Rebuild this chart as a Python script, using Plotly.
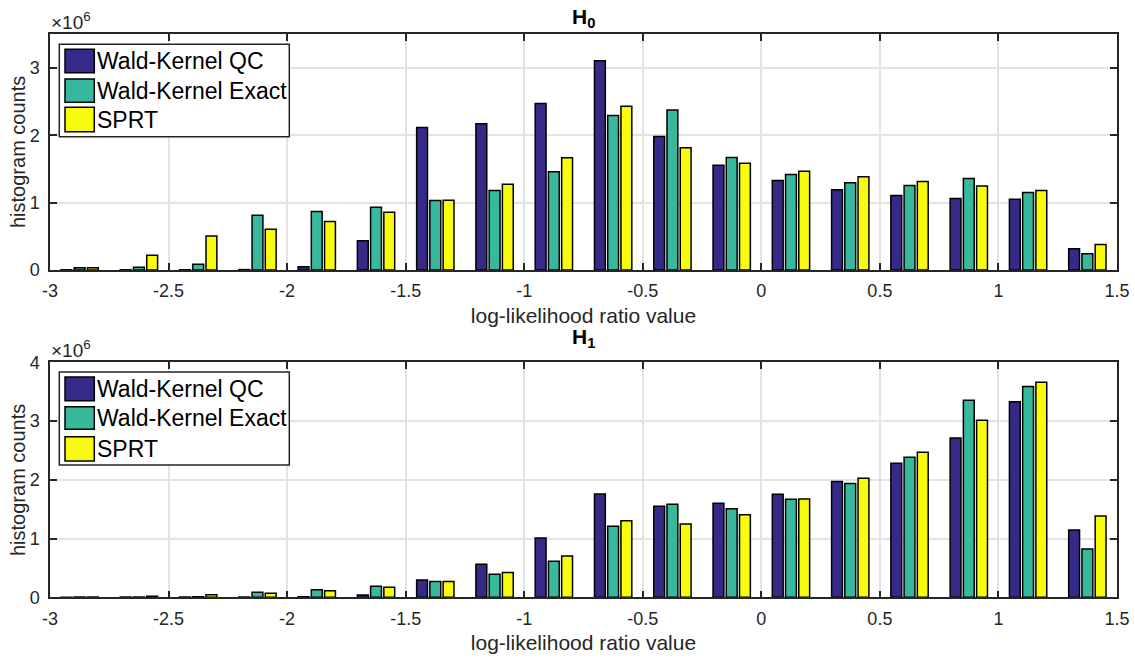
import plotly.graph_objects as go
from plotly.subplots import make_subplots

# ---------------- data ----------------
bin_centers = [-2.875, -2.625, -2.375, -2.125, -1.875, -1.625, -1.375, -1.125, -0.875,
               -0.625, -0.375, -0.125, 0.125, 0.375, 0.625, 0.875, 1.125, 1.375]
series_names = ["Wald-Kernel QC", "Wald-Kernel Exact", "SPRT"]

h0_qc = [3000, 3000, 3000, 6000, 50000, 436000, 2117000, 2172000, 2474000,
         3109000, 1983000, 1557000, 1329000, 1190000, 1106000, 1061000, 1051000, 317000]
h0_exact = [35000, 40000, 84000, 813000, 868000, 932000, 1031000, 1180000, 1458000,
            2296000, 2375000, 1671000, 1418000, 1294000, 1254000, 1359000, 1150000, 243000]
h0_sprt = [35000, 220000, 506000, 605000, 719000, 858000, 1036000, 1274000, 1666000,
           2430000, 1815000, 1587000, 1468000, 1383000, 1314000, 1249000, 1180000, 377000]

h1_qc = [2000, 3000, 3000, 5000, 10000, 40000, 295000, 562000, 1010000,
         1759000, 1549000, 1600000, 1753000, 1969000, 2281000, 2712000, 3330000, 1146000]
h1_exact = [5000, 5000, 10000, 85000, 130000, 187000, 267000, 391000, 613000,
            1209000, 1583000, 1509000, 1668000, 1935000, 2383000, 3353000, 3586000, 823000]
h1_sprt = [5000, 17000, 45000, 68000, 113000, 170000, 267000, 420000, 704000,
           1305000, 1248000, 1407000, 1674000, 2026000, 2468000, 3013000, 3660000, 1384000]

x_ticks = [-3, -2.5, -2, -1.5, -1, -0.5, 0, 0.5, 1, 1.5]
x_tick_text = ["-3", "-2.5", "-2", "-1.5", "-1", "-0.5", "0", "0.5", "1", "1.5"]
h0_yticks = [0, 1e6, 2e6, 3e6]
h0_ytext = ["0", "1", "2", "3"]
h1_yticks = [0, 1e6, 2e6, 3e6, 4e6]
h1_ytext = ["0", "1", "2", "3", "4"]
panel_titles = ["H<sub>0</sub>", "H<sub>1</sub>"]
x_label = "log-likelihood ratio value"
y_label = "histogram counts"

colors = ["#352A87", "#38B99E", "#F9FB0E"]

# ---------------- layout helpers ----------------
W, H = 1135, 658
FONT = "Liberation Sans, Arial, Helvetica, sans-serif"
TXT = "#262626"


def px(x):
    return x / W


def py(y):
    return 1 - y / H


fig = make_subplots(rows=2, cols=1)

panels = [
    (1, [h0_qc, h0_exact, h0_sprt], h0_yticks, h0_ytext, [0, 3.5e6]),
    (2, [h1_qc, h1_exact, h1_sprt], h1_yticks, h1_ytext, [0, 4e6]),
]
for row, data, yt, ytt, yr in panels:
    for name, vals, col in zip(series_names, data, colors):
        fig.add_trace(go.Bar(x=bin_centers, y=vals, name=name, showlegend=False,
                             marker=dict(color=col, line=dict(color="#000000", width=1.5))),
                      row=row, col=1)
    fig.update_xaxes(range=[-3, 1.5], tickvals=x_ticks, ticktext=x_tick_text,
                     showgrid=True, gridcolor="#E3E3E3", gridwidth=1.5,
                     ticks="inside", ticklen=7, tickwidth=1.5, tickcolor=TXT,
                     showline=True, linecolor=TXT, linewidth=1.5, mirror="ticks",
                     zeroline=False, automargin=False, ticklabelstandoff=4,
                     tickfont=dict(size=18, color=TXT, family=FONT),
                     title=dict(text=x_label, font=dict(size=21, color=TXT, family=FONT), standoff=8),
                     row=row, col=1)
    fig.update_yaxes(range=yr, tickvals=yt, ticktext=ytt,
                     showgrid=True, gridcolor="#E3E3E3", gridwidth=1.5,
                     ticks="inside", ticklen=7, tickwidth=1.5, tickcolor=TXT,
                     showline=True, linecolor=TXT, linewidth=1.5, mirror="ticks",
                     zeroline=False, automargin=False,
                     tickfont=dict(size=18, color=TXT, family=FONT),
                     ticklabelstandoff=5,
                     row=row, col=1)

x0, x1 = px(50), px(1117)
fig.update_layout(
    xaxis=dict(domain=[x0, x1]),
    xaxis2=dict(domain=[x0, x1]),
    yaxis=dict(domain=[py(270), py(34.3)]),
    yaxis2=dict(domain=[py(597.3), py(362.3)]),
)

annotations = []
shapes = []
# y-axis titles
for yc in [152, 480]:
    annotations.append(dict(x=px(18), y=py(yc), xref="paper", yref="paper", showarrow=False,
                            text=y_label, textangle=-90, xanchor="center", yanchor="middle",
                            font=dict(size=20, color=TXT, family=FONT)))
# panel titles and exponent labels
for title, ty in [(panel_titles[0], 18), (panel_titles[1], 338)]:
    annotations.append(dict(x=px(583), y=py(ty), xref="paper", yref="paper", showarrow=False,
                            text="<b>" + title + "</b>", xanchor="center", yanchor="middle",
                            font=dict(size=21, color="#000000", family=FONT)))
for ey in [21, 349]:
    annotations.append(dict(x=px(49), y=py(ey), xref="paper", yref="paper", showarrow=False,
                            text="×10<sup>6</sup>", xanchor="left", yanchor="middle",
                            font=dict(size=19, color=TXT, family=FONT)))

# manual legends (box, swatches, labels)
for box_top, box_bot, rows_y in [(44.3, 136.7, [(49.3, 72.7), (79, 102.3), (107.3, 131.7)]),
                                  (372, 465, [(377, 400.7), (406.7, 429.3), (436.7, 461)])]:
    shapes.append(dict(type="rect", xref="paper", yref="paper",
                       x0=px(59.3), x1=px(289.3), y0=py(box_bot), y1=py(box_top),
                       line=dict(color=TXT, width=1.5), fillcolor="white", layer="above"))
    for (ya, yb), name, col in zip(rows_y, series_names, colors):
        shapes.append(dict(type="rect", xref="paper", yref="paper",
                           x0=px(65), x1=px(94.3), y0=py(yb), y1=py(ya),
                           line=dict(color="#000000", width=1.5), fillcolor=col, layer="above"))
        annotations.append(dict(x=px(94.5), y=py((ya + yb) / 2), xref="paper", yref="paper",
                                showarrow=False, text=name, xanchor="left", yanchor="middle",
                                font=dict(size=23, color="#000000", family=FONT)))

fig.update_layout(
    width=W, height=H,
    margin=dict(l=0, r=0, t=0, b=0),
    paper_bgcolor="white", plot_bgcolor="white",
    barmode="group", bargap=0.33, bargroupgap=0.18,
    annotations=annotations, shapes=shapes,
    font=dict(family=FONT, color=TXT),
)

fig.write_html("out.html")
